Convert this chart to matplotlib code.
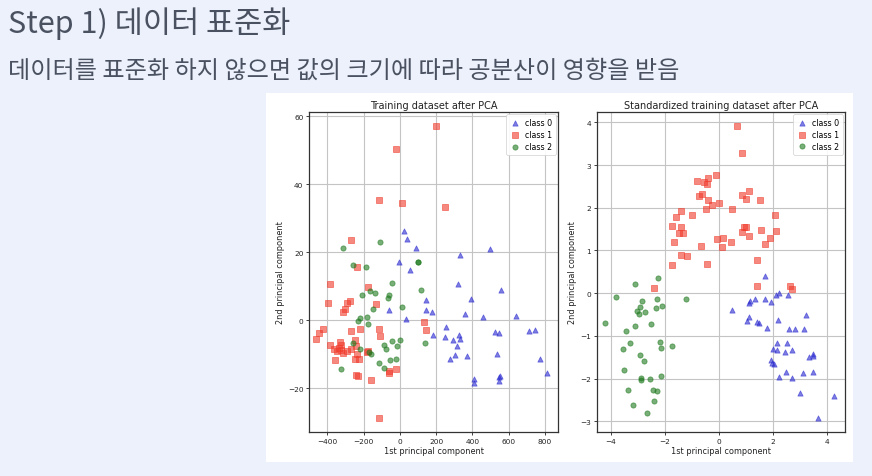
import matplotlib
matplotlib.use("Agg")
import matplotlib.pyplot as plt
from matplotlib.patches import Rectangle

# ---------------- data ----------------
title_text = "Step 1) 데이터 표준화"
subtitle_text = "데이터를 표준화 하지 않으면 값의 크기에 따라 공분산이 영향을 받음"
left_title = "Training dataset after PCA"
right_title = "Standardized training dataset after PCA"
xlabel = "1st principal component"
ylabel = "2nd principal component"
class_labels = ["class 0", "class 1", "class 2"]

# raw PCA
raw_x0 = [21, 41, 90, 330, 499, -2, 58, 322, 557, 144, 392, -58, 146, 178, 32, 358, 456, 639, 253, 184,
          247, 326, 332, 294, 313, 523, 548, 712, 744, 534, 368, 306, 276, 773, 411, 411, 549, 553, 548, 812]
raw_y0 = [26.4, 24.0, 21.2, 19.3, 21.1, 17.1, 14.8, 10.6, 8.9, 6.1, 6.2, 3.1, 3.1, 2.5, 0.5, 1.9, 0.9, 1.2, -2.1, -4.4,
          -5.0, -4.4, -5.6, -5.9, -7.5, -3.4, -3.8, -3.3, -2.9, -9.8, -10.5, -10.3, -11.5, -11.5, -17.4, -18.4, -16.8, -16.3, -18.0, -15.5]
raw_x1 = [200, -20, -115, 13, 250, -272, -238, -384, -396, -277, -291, -302, -311, -131, -178, -424, -446, -461, -272, -219,
          -114, -109, 131, 146, -386, -362, -332, -324, -338, -347, -311, -324, -272, -291, -246, -242, -234, -248, -223, -358,
          -180, -174, -244, -229, -161, -58, -62, -24, -114]
raw_y1 = [57.1, 50.4, 35.3, 34.6, 33.2, 23.7, 15.8, 10.8, 5.0, 5.7, 5.1, 3.3, 2.4, 4.8, 9.8, -2.5, -3.9, -5.6, -3.2, -2.6,
          -2.6, -4.7, -0.5, -2.9, -7.2, -8.4, -6.4, -7.4, -8.2, -9.0, -9.6, -8.9, -8.6, -9.2, -5.9, -7.6, -10.0, -11.5, -11.3, -11.7,
          -9.4, -9.1, -16.0, -16.3, -17.6, -15.5, -14.8, -14.4, -28.7]
raw_x2 = [-313, -109, -259, -187, 99, 100, -43, -210, -165, -137, -60, -66, 118, -146, 13, -218, -229, -180, -178, -261,
          -219, -88, -77, -43, 2, -15, -159, -172, -56, -19, -114, -88, -324, 141]
raw_y2 = [21.4, 23.1, 16.3, 15.8, 17.1, 17.2, 11.1, 7.5, 8.7, 8.1, 7.4, 6.6, 8.8, 3.2, 3.9, 0.7, -0.2, 0.9, -1.1, -6.6,
          -8.6, -7.2, -8.4, -6.0, -5.8, -7.6, -9.9, -9.4, -11.7, -11.4, -12.6, -14.1, -14.3, -6.6]

# standardized PCA
std_x0 = [1.69, 2.21, 2.11, 2.55, 1.68, 1.31, 1.16, 1.09, 1.93, 0.48, 1.09, 1.04, 1.41, 1.46, 1.76, 2.19, 2.6, 2.8, 3.13, 3.2,
          2.15, 2.5, 2.0, 2.14, 2.68, 2.43, 1.93, 1.96, 2.03, 3.33, 3.45, 3.46, 2.23, 2.68, 2.48, 3.1, 3.45, 3.0, 4.26, 3.66]
std_y0 = [0.41, 0.0, -0.05, -0.04, -0.13, -0.14, -0.19, -0.23, -0.21, -0.39, -0.55, -0.66, -0.68, -0.70, -0.81, -0.63, -0.84, -0.84, -0.84, -0.52,
          -1.16, -1.16, -1.31, -1.34, -1.34, -1.39, -1.56, -1.63, -1.67, -1.50, -1.42, -1.48, -1.97, -1.98, -1.84, -1.88, -1.84, -2.34, -2.41, -2.92]
std_x1 = [0.65, 0.86, -0.1, -0.83, -0.54, -0.41, -0.43, -0.64, -0.76, -0.41, -0.25, -0.5, 0.01, 0.83, 1.11, 1.0, 1.51, 0.49, 2.08, -1.4,
          -1.6, -0.99, -1.75, -1.41, -1.48, -1.34, -1.68, 0.83, 0.91, 1.01, 1.09, 1.53, 2.11, 1.89, 1.69, 0.13, -0.08, 0.1, 0.45, -0.65,
          -1.4, -1.18, 1.41, -1.74, -0.43, -2.41, 1.4, 2.63, 2.71]
std_y1 = [3.91, 3.29, 2.77, 2.63, 2.61, 2.69, 2.56, 2.33, 2.27, 2.17, 2.06, 1.98, 2.10, 2.30, 2.39, 2.20, 2.17, 1.98, 1.84, 1.92,
          1.79, 1.83, 1.57, 1.55, 1.41, 1.40, 1.20, 1.44, 1.54, 1.54, 1.33, 1.48, 1.45, 1.30, 1.14, 1.30, 1.26, 1.09, 1.20, 1.11,
          0.90, 0.88, 0.77, 0.66, 0.68, 0.13, 0.17, 0.16, 0.09]
std_x2 = [-2.24, -3.11, -3.8, -1.23, -2.85, -2.29, -2.91, -2.33, -2.09, -3.03, -2.94, -2.74, -4.21, -3.45, -3.1, -2.53, -3.28, -2.18, -2.16, -1.75,
          -3.54, -2.93, -2.76, -3.53, -2.88, -2.88, -2.54, -2.13, -3.36, -2.45, -2.29, -2.39, -3.19, -2.66]
std_y2 = [0.35, 0.21, -0.10, -0.13, -0.18, -0.14, -0.32, -0.35, -0.30, -0.43, -0.48, -0.45, -0.70, -0.88, -0.77, -0.72, -1.16, -1.14, -1.28, -1.23,
          -1.30, -1.46, -1.60, -1.81, -1.98, -2.03, -2.01, -1.94, -2.26, -2.28, -2.30, -2.53, -2.63, -2.81]

raw_xticks = [-400, -200, 0, 200, 400, 600, 800]
raw_yticks = [-20, 0, 20, 40, 60]
std_xticks = [-4, -2, 0, 2, 4]
std_yticks = [-3, -2, -1, 0, 1, 2, 3, 4]

# ---------------- figure ----------------
W, H = 872, 477
BG = "#ECF1FB"
TXT = "#4A5160"
fig = plt.figure(figsize=(W / 100, H / 100), dpi=100, facecolor=BG)

fig.text(8 / W, 1 - 33 / H, title_text, family=["Noto Sans CJK KR", "DejaVu Sans"],
         fontsize=22, color=TXT, va="baseline", ha="left")
fig.text(8 / W, 1 - 78 / H, subtitle_text, family=["Noto Sans CJK KR", "DejaVu Sans"],
         fontsize=17.4, color=TXT, va="baseline", ha="left")

# white inset (embedded chart image)
fig.patches.append(Rectangle((266 / W, 1 - 463 / H), (853 - 266) / W, (463 - 94) / H,
                             transform=fig.transFigure, facecolor="white", edgecolor="none", zorder=-1))


def px_axes(x0, x1, ytop, ybot):
    ax = fig.add_axes([x0 / W, 1 - ybot / H, (x1 - x0) / W, (ybot - ytop) / H])
    ax.set_zorder(2)
    return ax


styles = [("^", "#2a2ad0"), ("s", "#f03a2a"), ("o", "#1f7a1f")]


def draw(ax, xs, ys, title, xlim, ylim, xt, yt):
    for (m, c), x, y, lab in zip(styles, xs, ys, class_labels):
        ax.scatter(x, y, marker=m, c=c, s=14, alpha=0.6, label=lab, linewidths=0.6, zorder=3)
    ax.set_xlim(*xlim)
    ax.set_ylim(*ylim)
    ax.set_xticks(xt)
    ax.set_yticks(yt)
    ax.grid(True, color="#c4c4c4", linewidth=0.8, zorder=0)
    ax.set_axisbelow(True)
    ax.set_title(title, fontsize=7, pad=3, color="#222222")
    ax.set_xlabel(xlabel, fontsize=5.9, labelpad=1.5, color="#222222")
    ax.set_ylabel(ylabel, fontsize=5.9, labelpad=2, color="#222222")
    ax.tick_params(labelsize=5.3, length=2.5, width=0.6, pad=1.5, colors="#222222")
    for sp in ax.spines.values():
        sp.set_color("#333333")
        sp.set_linewidth(0.9)
    leg = ax.legend(loc="upper right", fontsize=5.7, handletextpad=0.6, borderpad=0.5,
                    labelspacing=0.35, handlelength=1.2, framealpha=0.9, borderaxespad=0.3)
    leg.get_frame().set_linewidth(0.5)


ax1 = px_axes(309, 558, 113, 433)
draw(ax1, [raw_x0, raw_x1, raw_x2], [raw_y0, raw_y1, raw_y2], left_title,
     (-501, 872), (-32.9, 61.3), raw_xticks, raw_yticks)

ax2 = px_axes(596.7, 845, 112.7, 433.3)
draw(ax2, [std_x0, std_x1, std_x2], [std_y0, std_y1, std_y2], right_title,
     (-4.52, 4.65), (-3.26, 4.25), std_xticks, std_yticks)

fig.savefig("out.png", dpi=100, facecolor=BG)
